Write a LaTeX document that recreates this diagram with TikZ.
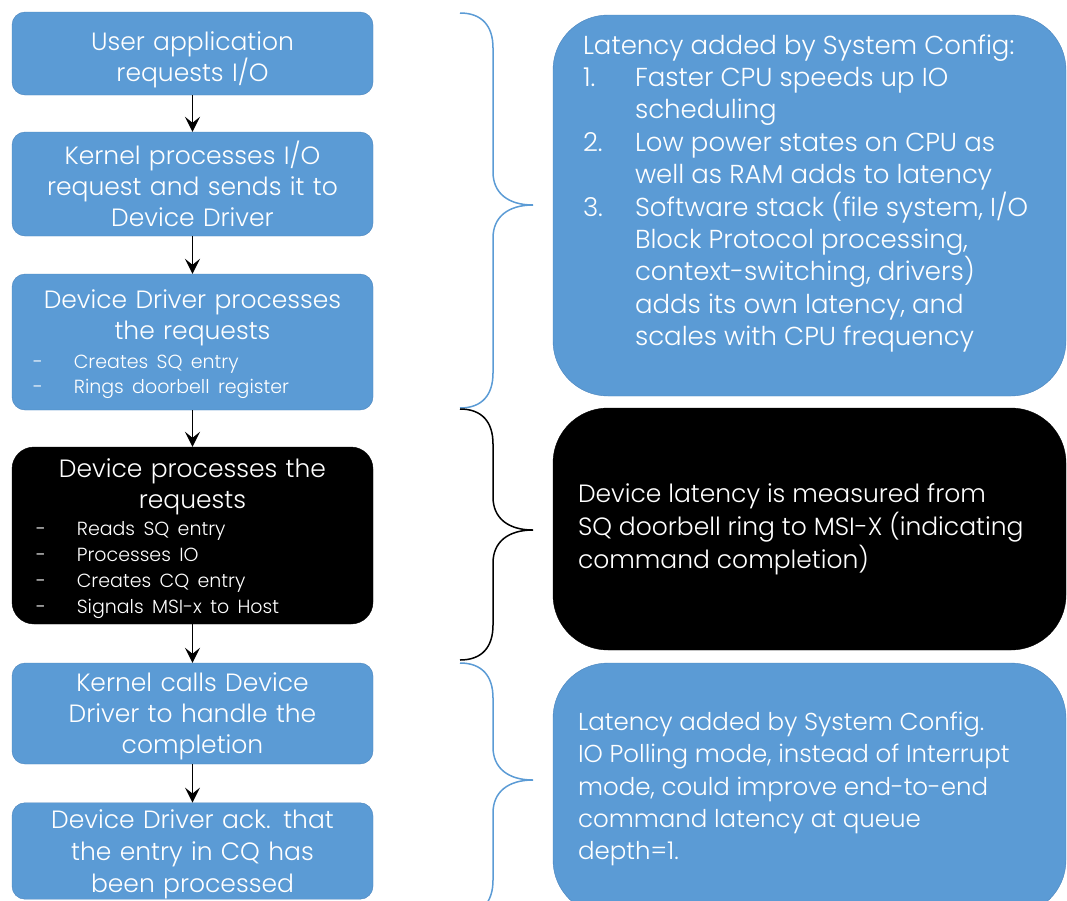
\documentclass[tikz,border=0pt]{standalone}
\usepackage{fontspec}
\IfFontExistsTF{Poppins Light}{\setmainfont{Poppins Light}}{\setmainfont{Poppins}}
\usepackage{xcolor}
\usetikzlibrary{arrows.meta, positioning}

\definecolor{boxblue}{HTML}{5B9BD5}
\definecolor{edgeblue}{HTML}{4A84BD}
\newcommand{\boxfont}{\fontsize{25}{31}\selectfont}
\newcommand{\bulletfont}{\fontsize{19}{24}\selectfont}
\newcommand{\stepitem}[2]{\makebox[345pt][l]{\bulletfont\hspace*{#1}-\hspace*{31pt}#2}}

\begin{document}
\begin{tikzpicture}[x=1pt, y=-1pt,
    stepbox/.style={draw=edgeblue, fill=boxblue, text=white, rounded corners=13pt, minimum width=361pt, text width=345pt, align=center, inner sep=0pt, font=\boxfont},
    devbox/.style={stepbox, draw=black, fill=black, rounded corners=22pt},
    notebox/.style={draw=edgeblue, fill=boxblue, text=white, rounded corners=55pt, minimum width=513pt, inner sep=0pt, font=\boxfont},
    devnote/.style={notebox, draw=black, fill=black},
    lower/.style={execute at begin node={\rule{0pt}{#1}}},
    flow/.style={-{Stealth[length=15pt, width=15pt, inset=6pt]}, line width=1.5pt},
    latbrace/.style={draw=boxblue, line width=1.5pt},
    devbrace/.style={latbrace, draw=black}]
    \path[use as bounding box, clip] (0,0) rectangle (1067,900);

    \node[stepbox, lower=31pt, minimum height=83pt] (userapp) at (192.5,53.5) {User application\\requests I/O};
    \node[stepbox, minimum height=104pt] (kernelio) at (192.5,184) {Kernel processes I/O\\request and sends it to\\Device Driver};
    \node[stepbox, lower=23pt, minimum height=136pt] (driversq) at (192.5,342) {Device Driver processes\\the requests\\[-2pt]
        \stepitem{13pt}{Creates SQ entry}\\[-6pt]
        \stepitem{13pt}{Rings doorbell register}};
    \node[devbox, lower=25pt, minimum height=177pt] (devproc) at (192.5,535.5) {Device processes the\\requests\\[-4pt]
        \stepitem{16pt}{Reads SQ entry}\\[-5pt]
        \stepitem{16pt}{Processes IO}\\[-5pt]
        \stepitem{16pt}{Creates CQ entry}\\[-5pt]
        \stepitem{16pt}{Signals MSI-x to Host}};
    \node[stepbox, lower=25pt, minimum height=101pt] (kernelcall) at (192.5,713.5) {Kernel calls Device\\Driver to handle the\\completion};
    \node[stepbox, lower=26pt, minimum height=96pt] (driverack) at (192.5,851) {Device Driver ack. that\\[1pt]the entry in CQ has\\[1pt]been processed};

    \draw[flow] (userapp) -- (kernelio);
    \draw[flow] (kernelio) -- (driversq);
    \draw[flow] (driversq) -- (devproc);
    \draw[flow] (devproc) -- (kernelcall);
    \draw[flow] (kernelcall) -- (driverack);

    \draw[latbrace] (460,13) .. controls (482,13) and (493,26) .. (493,48) -- (493,172) .. controls (493,193) and (508,205) .. (533,205)
        .. controls (508,205) and (493,217) .. (493,238) -- (493,373) .. controls (493,395) and (482,408) .. (460,408);
    \draw[devbrace] (460,409) .. controls (482,409) and (493,422) .. (493,444) -- (493,497) .. controls (493,518) and (508,530) .. (533,530)
        .. controls (508,530) and (493,542) .. (493,563) -- (493,625) .. controls (493,647) and (482,660) .. (460,660);
    \draw[latbrace] (460,663) .. controls (482,663) and (493,676) .. (493,698) -- (493,747) .. controls (493,768) and (508,780) .. (533,780)
        .. controls (508,780) and (493,792) .. (493,813) -- (493,880) .. controls (493,902) and (482,915) .. (460,915);

    \node[notebox, minimum height=381pt] (sysconfig) at (809.5,205.5) {\parbox[c][342pt][t]{453pt}{\raggedright\fontsize{26}{32.4}\selectfont
        Latency added by System Config:\\
        \makebox[52pt][l]{1.}Faster CPU speeds up IO\\
        \hspace*{52pt}scheduling\\
        \makebox[52pt][l]{2.}Low power states on CPU as\\
        \hspace*{52pt}well as RAM adds to latency\\
        \makebox[52pt][l]{3.}Software stack (file system, I/O\\
        \hspace*{52pt}Block Protocol processing,\\
        \hspace*{52pt}context-switching, drivers)\\
        \hspace*{52pt}adds its own latency, and\\
        \hspace*{52pt}scales with CPU frequency}};
    \node[devnote, minimum height=242pt] (devlatency) at (809.5,529) {\parbox{463pt}{\raggedright\fontsize{25}{33}\selectfont
        Device latency is measured from\\
        \mbox{SQ doorbell ring to MSI-X (indicating}\\
        command completion)}};
    \node[notebox, minimum height=252pt] (polling) at (809.5,789) {\parbox{463pt}{\raggedright\fontsize{24.5}{32.3}\selectfont
        Latency added by System Config.\\
        IO Polling mode, instead of Interrupt\\
        mode, could improve end-to-end\\
        command latency at queue\\
        depth=1.}};
\end{tikzpicture}
\end{document}
